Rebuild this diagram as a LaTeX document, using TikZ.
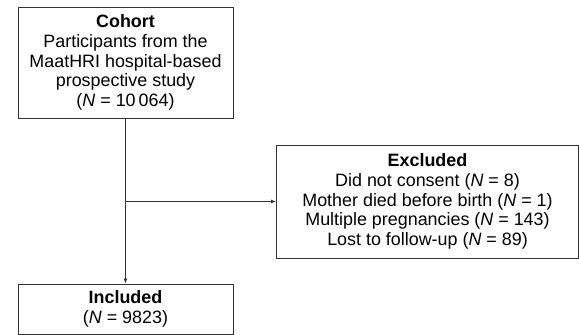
\documentclass[tikz,border=0pt]{standalone}
\usepackage{fontspec}
\setmainfont{Liberation Sans}
\usetikzlibrary{arrows.meta}
\tikzset{
  box/.style={draw=black!80, line width=0.9pt, align=center, inner sep=0pt,
    font=\fontsize{17.9pt}{19.6pt}\selectfont},
  conn/.style={draw=black!80, line width=0.9pt},
  arr/.style={conn, -{Latex[length=5pt,width=4pt]}}
}
\begin{document}
\begin{tikzpicture}[x=1pt,y=1pt]
\useasboundingbox (0,0) rectangle (579,-335);
\node[box, minimum width=215pt, minimum height=111pt] (cohort) at (125.5,-62.5)
  {\textbf{Cohort}\\Participants from the\\MaatHRI hospital-based\\prospective study\\(\textit{N} = 10\,064)};
\node[box, minimum width=302pt, minimum height=113pt] (excl) at (427.5,-201.5)
  {\textbf{Excluded}\\Did not consent (\textit{N} = 8)\\Mother died before birth (\textit{N} = 1)\\Multiple pregnancies (\textit{N} = 143)\\Lost to follow-up (\textit{N} = 89)};
\node[box, minimum width=215pt, minimum height=50pt] (incl) at (125.5,-309)
  {\textbf{Included}\\(\textit{N} = 9823)};
\coordinate (j) at (cohort.south |- excl.west);
\draw[arr] (cohort.south) -- (incl.north);
\draw[arr] (j) -- (excl.west);
\end{tikzpicture}
\end{document}
